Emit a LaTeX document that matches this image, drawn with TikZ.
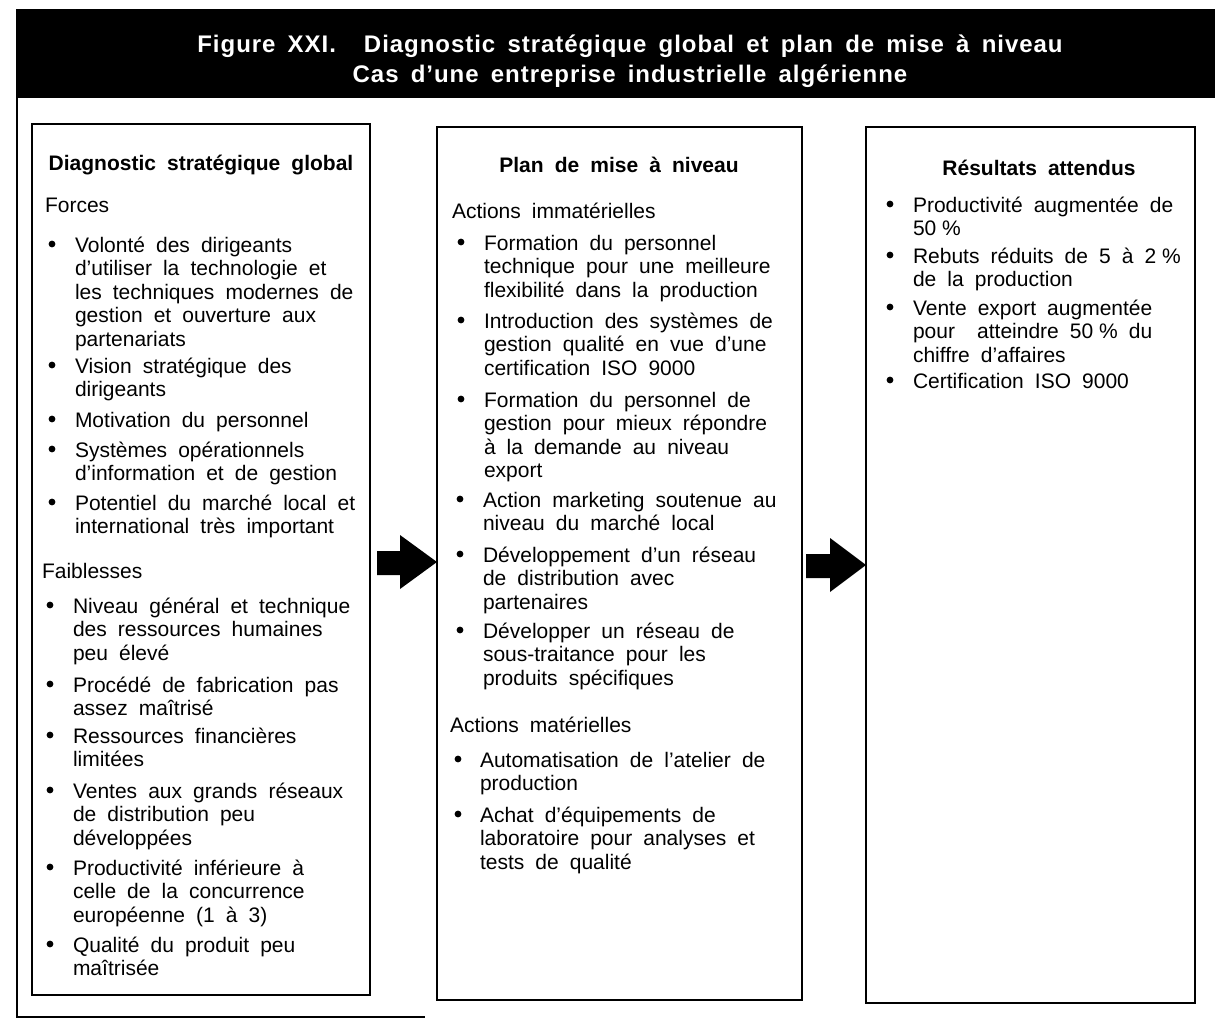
\documentclass[tikz,border=0pt]{standalone}
\usepackage{fontspec}
\setmainfont{Liberation Sans}[WordSpace=1.9]
\newfontfamily\headfont{Liberation Sans}[WordSpace=1.6,LetterSpace=4]
\newcommand\blk[1]{\vtop{\let\\\cr\halign{##\hfil\cr#1\crcr}}}
\newcommand\pct{\hspace{0.28em}\%}
\begin{document}
\begin{tikzpicture}[x=0.5pt,y=-0.5pt,
  every node/.style={inner sep=0pt, outer sep=0pt},
  bodyf/.style={font=\fontsize{10.5}{11.75}\selectfont},
  txt/.style={bodyf, anchor=base west},
  bul/.style={circle, fill=black, minimum size=3.4pt},
  ttl/.style={font=\fontsize{10.5}{11.75}\selectfont\bfseries, anchor=base},
  head/.style={font=\fontsize{12}{15}\selectfont\headfont\bfseries, anchor=base, text=white},
  boxst/.style={draw=black, line width=0.75pt},
  frm/.style={draw=black, line width=0.6pt},
  bigarrow/.style={fill=black, draw=none}]
\useasboundingbox (0,0) rectangle (1215,1022);
% header band
\fill[black] (16,9) rectangle (1215,98);
\node[head] (h1) at (630,53) {Figure XXI.\hspace{14pt}Diagnostic stratégique global et plan de mise à niveau};
\node[head] (h2) at (630,83) {Cas d’une entreprise industrielle algérienne};
% outer frame
\coordinate (fa) at (17,98);
\coordinate (fb) at (17,1017);
\coordinate (fc) at (425,1017);
\draw[frm] (fa) -- (fb) -- (fc);
% boxes
\draw[boxst] (32,124) rectangle (370,995);
\draw[boxst] (437,127) rectangle (802,1000);
\draw[boxst] (866,127) rectangle (1195,1003);
% arrows
\fill[bigarrow] (377,551) -- (400,551) -- (400,535) -- (437,562) -- (400,589) -- (400,575) -- (377,575) -- cycle;
\fill[bigarrow] (806,554) -- (830,554) -- (830,538) -- (866,565) -- (830,592) -- (830,578) -- (806,578) -- cycle;
% left box
\node[ttl] (lt) at (201,170) {Diagnostic stratégique global};
\node[txt] (lf) at (45,213) {Forces};
\node[bul] (lb1) at (52,244) {};
\node[txt] (li1) at (75,252) {\blk{Volonté des dirigeants\\d’utiliser la technologie et\\les techniques modernes de\\gestion et ouverture aux\\partenariats}};
\node[bul] (lb2) at (52,365) {};
\node[txt] (li2) at (75,373) {\blk{Vision stratégique des\\dirigeants}};
\node[bul] (lb3) at (52,419) {};
\node[txt] (li3) at (75,427) {\blk{Motivation du personnel}};
\node[bul] (lb4) at (52,449) {};
\node[txt] (li4) at (75,457) {\blk{Systèmes opérationnels\\d’information et de gestion}};
\node[bul] (lb5) at (52,502) {};
\node[txt] (li5) at (75,510) {\blk{Potentiel du marché local et\\international très important}};
\node[txt] (lw) at (42,578) {Faiblesses};
\node[bul] (lb6) at (50,605) {};
\node[txt] (li6) at (73,613) {\blk{Niveau général et technique\\des ressources humaines\\peu élevé}};
\node[bul] (lb7) at (50,684) {};
\node[txt] (li7) at (73,692) {\blk{Procédé de fabrication pas\\assez maîtrisé}};
\node[bul] (lb8) at (50,735) {};
\node[txt] (li8) at (73,743) {\blk{Ressources financières\\limitées}};
\node[bul] (lb9) at (50,790) {};
\node[txt] (li9) at (73,798) {\blk{Ventes aux grands réseaux\\de distribution peu\\développées}};
\node[bul] (lb10) at (50,867) {};
\node[txt] (li10) at (73,875) {\blk{Productivité inférieure à\\celle de la concurrence\\européenne (1 à 3)}};
\node[bul] (lb11) at (50,944) {};
\node[txt] (li11) at (73,952) {\blk{Qualité du produit peu\\maîtrisée}};
% middle box
\node[ttl] (mt) at (619,172) {Plan de mise à niveau};
\node[txt] (ma) at (452,218) {Actions immatérielles};
\node[bul] (mb1) at (461,242) {};
\node[txt] (mi1) at (484,250) {\blk{Formation du personnel\\technique pour une meilleure\\flexibilité dans la production}};
\node[bul] (mb2) at (461,320) {};
\node[txt] (mi2) at (484,328) {\blk{Introduction des systèmes de\\gestion qualité en vue d’une\\certification ISO 9000}};
\node[bul] (mb3) at (461,399) {};
\node[txt] (mi3) at (484,407) {\blk{Formation du personnel de\\gestion pour mieux répondre\\à la demande au niveau\\export}};
\node[bul] (mb4) at (460,499) {};
\node[txt] (mi4) at (483,507) {\blk{Action marketing soutenue au\\niveau du marché local}};
\node[bul] (mb5) at (460,554) {};
\node[txt] (mi5) at (483,562) {\blk{Développement d’un réseau\\de distribution avec\\partenaires}};
\node[bul] (mb6) at (460,630) {};
\node[txt] (mi6) at (483,638) {\blk{Développer un réseau de\\sous-traitance pour les\\produits spécifiques}};
\node[txt] (mm) at (450,732) {Actions matérielles};
\node[bul] (mb7) at (458,759) {};
\node[txt] (mi7) at (480,767) {\blk{Automatisation de l’atelier de\\production}};
\node[bul] (mb8) at (458,814) {};
\node[txt] (mi8) at (480,822) {\blk{Achat d’équipements de\\laboratoire pour analyses et\\tests de qualité}};
% right box
\node[ttl] (rt) at (1039,176) {Résultats attendus};
\node[bul] (rb1) at (890,204) {};
\node[txt] (ri1) at (913,212) {\blk{Productivité augmentée de\\50\pct}};
\node[bul] (rb2) at (890,255) {};
\node[txt] (ri2) at (913,263) {\blk{Rebuts réduits de 5 à 2\pct\\de la production}};
\node[bul] (rb3) at (890,307) {};
\node[txt] (ri3) at (913,315) {\blk{Vente export augmentée\\pour\ \ atteindre 50\pct{} du\\chiffre d’affaires}};
\node[bul] (rb4) at (890,380) {};
\node[txt] (ri4) at (913,388) {\blk{Certification ISO 9000}};
\end{tikzpicture}
\end{document}
